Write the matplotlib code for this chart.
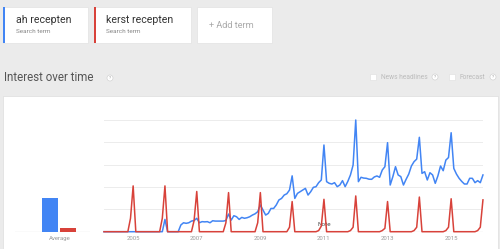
import matplotlib
matplotlib.use("Agg")
import matplotlib.pyplot as plt
from matplotlib.patches import Rectangle, Circle
import numpy as np

plt.rcParams['font.family'] = ['Roboto', 'DejaVu Sans']

# monthly values, Jan 2004 .. Dec 2015
ah_recepten = [
    0, 0, 0, 0, 0, 0, 0, 0, 0, 0, 0, 0,
    0, 0, 0, 0, 0, 0, 0, 0, 0, 0, 0, 11,
    0, 0, 0, 0, 0, 6, 8, 7.5, 8, 9.5, 10, 12,
    8, 9, 8.8, 9, 8, 9.8, 9.5, 9.5, 9.5, 9.5, 10, 15.8,
    10.4, 14.3, 13.4, 11, 12.8, 12, 12.5, 13.4, 14.9, 16, 17.9, 23.9,
    19.4, 14.9, 16.4, 20.8, 20.8, 23.9, 28.4, 29.8, 32.8, 34, 37.3, 50,
    29.8, 34.3, 35.8, 37.3, 38.8, 32.8, 35.8, 39.7, 40.3, 43.9, 46.3, 77.6,
    44.8, 43.3, 42.7, 43.9, 40.3, 41.8, 45.7, 40.3, 45, 50.8, 59.7, 100,
    44.8, 48.7, 48, 47.8, 47, 46.9, 49, 49.9, 48.7, 55.2, 58.2, 79.7,
    41.8, 49.3, 58.2, 50.8, 49.3, 41.8, 46.9, 51.6, 58.8, 62.7, 65, 84.5,
    52.2, 53.7, 46.3, 52.8, 50.8, 43.3, 50, 58.8, 54.6, 64.1, 66.4, 88.6,
    56.7, 51.6, 47.8, 45, 42.7, 42.7, 47.8, 47.8, 43.9, 45.7, 43.9, 50.8,
]

# kerst recepten: only Oct/Nov/Dec are non-zero each year
years = list(range(2004, 2016))
kerst_oct = [0, 0, 0, 0, 0, 0, 1, 1, 1, 1, 1, 1]
kerst_nov = [12, 12, 10, 8, 8, 4, 5, 4, 3, 4, 4, 4]
kerst_dec = [41, 41, 36, 35, 35, 27, 29, 32, 27, 31, 29.5, 28.5]

averages = [30.4, 3.6]
tick_years = ['2005', '2007', '2009', '2011', '2013', '2015']
tick_months = [11, 35, 59, 83, 107, 131]

kerst = np.zeros(len(ah_recepten))
for i in range(len(years)):
    kerst[i * 12 + 9] = kerst_oct[i]
    kerst[i * 12 + 10] = kerst_nov[i]
    kerst[i * 12 + 11] = kerst_dec[i]

BLUE = '#4285f4'
RED = '#d8423a'
W, H = 500, 249

fig = plt.figure(figsize=(W / 100, H / 100), dpi=100)
fig.patch.set_facecolor('#ebebeb')

# ui layer in pixel coords
ui = fig.add_axes([0, 0, 1, 1])
ui.set_xlim(0, W)
ui.set_ylim(H, 0)
ui.axis('off')

def card(x0, x1, edge=None):
    ui.add_patch(Rectangle((x0, 7), x1 - x0, 36, facecolor='white',
                           edgecolor='#e2e2e2', lw=0.5))
    if edge:
        ui.add_patch(Rectangle((x0, 7), 1.6, 36, facecolor=edge, lw=0))

card(3, 88, BLUE)
card(94, 190.5, RED)
card(197, 271.5)
ui.text(15.5, 20, 'ah recepten', fontsize=7.6, color='#333333', va='center')
ui.text(15.5, 31, 'Search term', fontsize=4.6, color='#888888', va='center')
ui.text(106, 20, 'kerst recepten', fontsize=7.6, color='#333333', va='center')
ui.text(106, 31, 'Search term', fontsize=4.6, color='#888888', va='center')
ui.text(209, 25.5, '+ Add term', fontsize=6.6, color='#aaaaaa', va='center')

ui.text(4, 77.5, 'Interest over time', fontsize=8.3, color='#555555', va='center')

def qmark(x, y):
    ui.add_patch(Circle((x, y), 3, facecolor='white', edgecolor='#cccccc', lw=0.4))
    ui.text(x, y, '?', fontsize=3.2, color='#999999', ha='center', va='center')

qmark(110, 78)
ui.add_patch(Rectangle((370, 74), 5.5, 5.5, facecolor='white', edgecolor='#dddddd', lw=0.4))
ui.text(381, 77, 'News headlines', fontsize=4.8, color='#bbbbbb', va='center')
qmark(435, 77)
ui.add_patch(Rectangle((449, 74), 5.5, 5.5, facecolor='white', edgecolor='#dddddd', lw=0.4))
ui.text(460, 77, 'Forecast', fontsize=4.8, color='#bbbbbb', va='center')
qmark(493, 77)

# white panel
ui.add_patch(Rectangle((3, 96), 495, 160, facecolor='white', edgecolor='#dddddd', lw=0.5))

# chart axes
base_y, top_y = 231.7, 120
x_left, px_per_month = 104, 2.65
n = len(ah_recepten)
x_right = x_left + (n - 1) * px_per_month
ax = fig.add_axes([x_left / W, (H - base_y) / H,
                   (x_right - x_left) / W, (base_y - top_y) / H])
ax.set_xlim(0, n - 1)
ax.set_ylim(0, 100)
ax.patch.set_alpha(0)
for s in ax.spines.values():
    s.set_visible(False)
for v in [20, 40, 60, 80, 100]:
    ax.axhline(v, color='#ececec', lw=0.7, zorder=0)
ax.axhline(0, color='#b5b5b5', lw=0.8, zorder=1)
months = np.arange(n)
ax.plot(months, ah_recepten, color=BLUE, lw=1.1, clip_on=False, zorder=3)
ax.plot(months, kerst, color=RED, lw=1.1, clip_on=False, zorder=4)
ax.set_xticks(tick_months)
ax.set_xticklabels(tick_years)
ax.tick_params(axis='x', length=0, pad=3, labelsize=4.3, labelcolor='#999999')
ax.set_yticks([])
ax.text(80.5, 6, 'Note', fontsize=4.6, color='#444444', va='center')

# average bars
ax2 = fig.add_axes([15 / W, (H - base_y) / H, 75 / W, (base_y - top_y) / H])
ax2.set_xlim(15, 90)
ax2.set_ylim(0, 100)
ax2.patch.set_alpha(0)
for s in ax2.spines.values():
    s.set_visible(False)
ax2.axhline(0, color='#b5b5b5', lw=0.8)
ax2.bar([50, 68], averages, width=[16.6, 16], color=[BLUE, RED], zorder=2)
ax2.set_yticks([])
ax2.set_xticks([59.3])
ax2.set_xticklabels(['Average'])
ax2.tick_params(axis='x', length=0, pad=3, labelsize=4.3, labelcolor='#999999')

fig.savefig('out.png', dpi=100, facecolor=fig.get_facecolor())
